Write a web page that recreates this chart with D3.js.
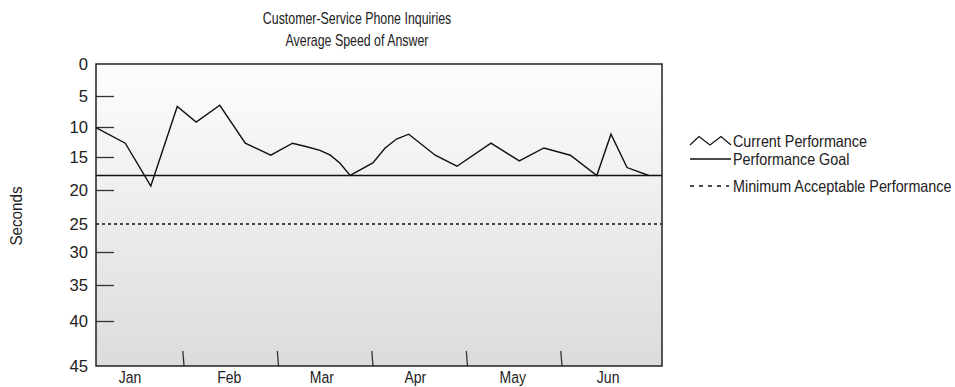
<!DOCTYPE html>
<html>
<head>
<meta charset="utf-8">
<script src="https://cdn.jsdelivr.net/npm/d3@7"></script>
<style>
  html, body { margin: 0; padding: 0; background: #ffffff; }
  svg { display: block; }
  text { font-family: "Liberation Sans", Arial, Helvetica, sans-serif; fill: #222; }
</style>
</head>
<body>
<svg id="chart" width="955" height="387"></svg>
<script>
// ---------- data ----------
const titleLines = ["Customer-Service Phone Inquiries", "Average Speed of Answer"];
const yLabel = "Seconds";
const months = ["Jan", "Feb", "Mar", "Apr", "May", "Jun"];
const monthLabelPos = [0.44, 1.49, 2.47, 3.46, 4.49, 5.5];
const monthBoundaries = [1, 2, 3, 4, 5];
const yTicks = [0, 5, 10, 15, 20, 25, 30, 35, 40, 45];
// observation positions (in months from start of Jan) and average speed of answer (seconds)
const obsPos = [0.08, 0.39, 0.66, 0.94, 1.14, 1.39, 1.66, 1.93, 2.16, 2.31, 2.45, 2.56, 2.66, 2.77,
                3.01, 3.14, 3.26, 3.39, 3.67, 3.90, 4.26, 4.56, 4.82, 5.10, 5.38, 5.53, 5.70, 5.93];
const obsSeconds = [10.1, 12.7, 19.4, 6.7, 9.2, 6.5, 12.7, 14.7, 12.7, 13.3, 13.9, 14.7, 15.9, 17.8,
                    15.9, 13.5, 12.0, 11.2, 14.7, 16.4, 12.7, 15.6, 13.5, 14.7, 17.8, 11.2, 16.6, 17.8];
const goalSeconds = 17.8;
const minimumSeconds = 25;
const legendItems = ["Current Performance", "Performance Goal", "Minimum Acceptable Performance"];

// ---------- layout ----------
const plot = { left: 96, top: 64, right: 662, bottom: 366 };
const xDomain = [0.08, 6.07];

const svg = d3.select("#chart");
const defs = svg.append("defs");
const grad = defs.append("linearGradient").attr("id", "bg").attr("x1", 0).attr("y1", 0).attr("x2", 0).attr("y2", 1);
grad.append("stop").attr("offset", "0%").attr("stop-color", "#fdfdfd");
grad.append("stop").attr("offset", "100%").attr("stop-color", "#dcdcdc");

const x = d3.scaleLinear().domain(xDomain).range([plot.left, plot.right]);
// hand-spaced vertical axis (seconds increase downward)
const y = d3.scaleLinear()
  .domain(yTicks)
  .range([64, 96, 127, 157, 190, 224, 252, 285, 321, 366]);

// condensed text helper (narrow sans look)
function label(parent, px, py, str, opts) {
  const o = Object.assign({ anchor: "start", size: 15.5, sx: 0.82, rotate: 0 }, opts || {});
  return parent.append("text")
    .attr("transform", `translate(${px},${py})` + (o.rotate ? ` rotate(${o.rotate})` : "") + ` scale(${o.sx},1)`)
    .attr("text-anchor", o.anchor)
    .style("font-size", o.size + "px")
    .text(str);
}

// background
svg.append("rect")
  .attr("x", plot.left).attr("y", plot.top)
  .attr("width", plot.right - plot.left).attr("height", plot.bottom - plot.top)
  .attr("fill", "url(#bg)");

// title
titleLines.forEach((t, i) => label(svg, 357, 24 + i * 22, t, { anchor: "middle", size: 16.5, sx: 0.75 }));

// y axis (tick marks pointing inward)
const yAxis = d3.axisLeft(y).tickValues(yTicks).tickSize(-18).tickFormat("");
const gy = svg.append("g").attr("transform", `translate(${plot.left},0)`).call(yAxis);
gy.select(".domain").remove();
gy.selectAll(".tick line")
  .attr("stroke", "#333").attr("stroke-width", 1.3)
  .attr("display", d => (d === 0 || d === 45 || d === minimumSeconds) ? "none" : null);
yTicks.forEach(v => label(svg, plot.left - 8, y(v) + 6, String(v), { anchor: "end", size: 17, sx: 0.98 }));

// x axis: month boundary ticks
const xAxis = d3.axisBottom(x).tickValues(monthBoundaries).tickSize(-15).tickFormat("");
const gx = svg.append("g").attr("transform", `translate(0,${plot.bottom})`).call(xAxis);
gx.select(".domain").remove();
gx.selectAll(".tick line")
  .attr("stroke", "#333").attr("stroke-width", 1.3)
  .attr("x1", 0.6).attr("x2", -0.6);

// month labels
months.forEach((m, i) => label(svg, x(monthLabelPos[i]), 383, m, { anchor: "middle", size: 16.5, sx: 0.85 }));

// y axis title
label(svg, 22, 216, yLabel, { anchor: "middle", size: 16, sx: 0.95, rotate: -90 });

// reference lines
svg.append("line")
  .attr("x1", plot.left).attr("x2", plot.right)
  .attr("y1", y(goalSeconds)).attr("y2", y(goalSeconds))
  .attr("stroke", "#111").attr("stroke-width", 1.3);
svg.append("line")
  .attr("x1", plot.left).attr("x2", plot.right)
  .attr("y1", y(minimumSeconds)).attr("y2", y(minimumSeconds))
  .attr("stroke", "#111").attr("stroke-width", 1.6).attr("stroke-dasharray", "3,3");

// performance line
const line = d3.line().x(d => x(d[0])).y(d => y(d[1]));
svg.append("path")
  .datum(obsPos.map((p, i) => [p, obsSeconds[i]]))
  .attr("d", line)
  .attr("fill", "none").attr("stroke", "#111").attr("stroke-width", 1.4)
  .attr("stroke-linejoin", "miter");

// plot frame
svg.append("rect")
  .attr("x", plot.left).attr("y", plot.top)
  .attr("width", plot.right - plot.left).attr("height", plot.bottom - plot.top)
  .attr("fill", "none").attr("stroke", "#222").attr("stroke-width", 1.5);

// legend
const lg = svg.append("g");
const lx = 690, lw = 41, tx = 733;
const rowY = [141, 159, 186];
const zig = [[0, 4], [9, -4.5], [20, 4], [31, -4.5], [41, 4]];
lg.append("path")
  .attr("d", d3.line()(zig.map(p => [lx + p[0], rowY[0] + p[1]])))
  .attr("fill", "none").attr("stroke", "#111").attr("stroke-width", 1.2);
lg.append("line").attr("x1", lx).attr("x2", lx + lw).attr("y1", rowY[1]).attr("y2", rowY[1])
  .attr("stroke", "#111").attr("stroke-width", 1.3);
lg.append("line").attr("x1", lx).attr("x2", lx + lw - 2).attr("y1", rowY[2]).attr("y2", rowY[2])
  .attr("stroke", "#111").attr("stroke-width", 1.6).attr("stroke-dasharray", "4,5");
legendItems.forEach((t, i) => label(lg, tx, rowY[i] + 6, t, { size: 16.5, sx: 0.87 }));
</script>
</body>
</html>
